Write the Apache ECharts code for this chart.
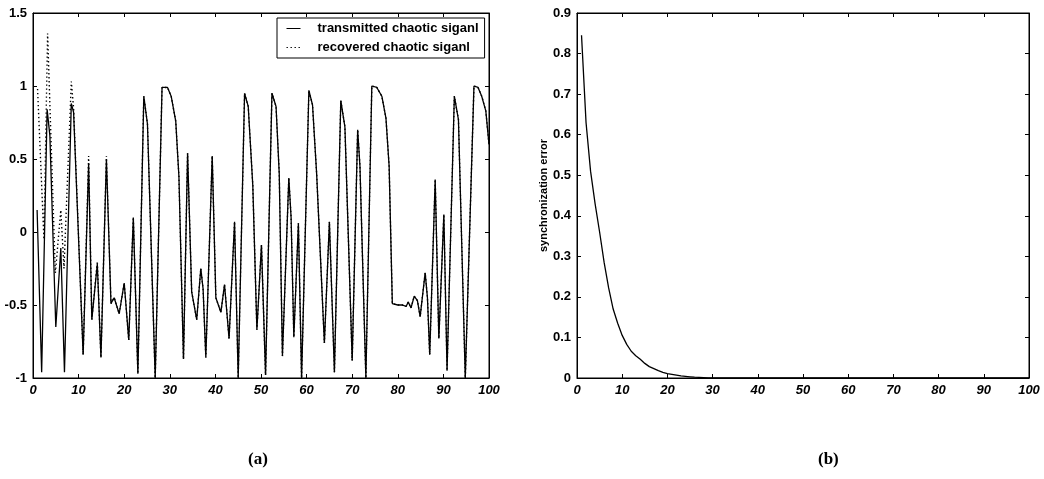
<!DOCTYPE html>
<html>
<head>
<meta charset="utf-8">
<script src="https://cdn.jsdelivr.net/npm/echarts@6/dist/echarts.min.js"></script>
<style>
  html, body { margin: 0; padding: 0; background: #fff; }
  #chart { width: 1044px; height: 479px; }
</style>
</head>
<body>
<div id="chart"></div>
<script>
// Panel (a): transmitted chaotic signal, vertices as (time, value)
const transT = [0.9, 1.9, 3.1, 3.7, 5.0, 6.1, 6.9, 8.4, 8.9, 11.0, 12.2, 12.9, 14.1, 14.9, 16.1,
  17.1, 17.8, 18.9, 20.0, 21.0, 22.0, 23.0, 24.3, 25.1, 26.8, 28.3, 29.5, 30.3, 31.3, 32.0,
  33.0, 33.9, 34.8, 35.9, 36.8, 37.3, 37.9, 39.3, 40.1, 41.2, 42.0, 43.0, 44.2, 45.0,
  46.4, 47.2, 48.2, 49.1, 50.1, 51.0, 52.4, 53.3, 54.0, 54.7, 56.1, 56.6, 57.2, 58.2, 58.9,
  60.5, 61.3, 62.2, 63.9, 65.0, 66.1, 67.5, 68.4, 70.0, 71.2, 71.7, 73.0,
  74.3, 75.4, 76.5, 77.4, 78.1, 78.8, 80.0, 81.0, 81.8, 82.3, 82.9, 83.6, 84.3, 84.9,
  86.0, 86.5, 87.0, 88.2, 89.0, 90.1, 90.8, 92.4, 93.3, 94.8, 96.7, 97.6, 98.4, 99.3, 100];
const transY = [0.15, -0.96, 0.84, 0.66, -0.65, -0.11, -0.96, 0.88, 0.82, -0.84, 0.47, -0.60, -0.22, -0.86, 0.50,
  -0.49, -0.45, -0.56, -0.35, -0.74, 0.10, -0.97, 0.93, 0.74, -1.0, 0.99, 0.99, 0.93, 0.76, 0.38,
  -0.87, 0.54, -0.41, -0.60, -0.25, -0.39, -0.86, 0.52, -0.45, -0.55, -0.36, -0.73, 0.07, -1.0,
  0.95, 0.86, 0.32, -0.67, -0.09, -0.98, 0.95, 0.86, 0.40, -0.85, 0.37, 0.10, -0.72, 0.06, -1.0,
  0.97, 0.87, 0.40, -0.76, 0.07, -0.96, 0.90, 0.72, -0.88, 0.70, 0.45, -1.0,
  1.0, 0.99, 0.93, 0.78, 0.45, -0.49, -0.50, -0.50, -0.51, -0.48, -0.52, -0.44, -0.47, -0.58,
  -0.28, -0.45, -0.84, 0.36, -0.73, 0.12, -0.95, 0.93, 0.77, -1.0, 1.0, 0.99, 0.93, 0.83, 0.60];

// Panel (a): recovered signal while it still differs; afterwards it lies on the transmitted curve
const recEarlyT = [1.0, 2.4, 3.2, 4.9, 6.1, 6.8, 8.4, 8.9, 11.0, 12.2, 12.9, 14.1, 14.9, 16.1];
const recEarlyY = [0.98, -0.05, 1.36, -0.28, 0.15, -0.25, 1.03, 0.85, -0.84, 0.52, -0.60, -0.20, -0.86, 0.52];

// Panel (b): synchronization error
const errT = [1, 2, 3, 4, 5, 6, 7, 8, 9, 10, 11, 12, 13, 14, 15, 16, 17, 18, 19, 20,
  21, 22, 23, 24, 25, 26, 27, 28, 29, 30, 40, 50, 60, 70, 80, 90, 100];
const errY = [0.845, 0.63, 0.51, 0.43, 0.36, 0.285, 0.222, 0.17, 0.135, 0.105, 0.083, 0.066, 0.055, 0.046, 0.036,
  0.028, 0.023, 0.018, 0.014, 0.011, 0.009, 0.007, 0.005, 0.004, 0.003, 0.002, 0.0015, 0.001, 0.0005, 0,
  0, 0, 0, 0, 0, 0, 0];

const seriesNames = ['transmitted chaotic siganl', 'recovered chaotic siganl'];
const errAxisName = 'synchronization error';
const captions = ['(a)', '(b)'];

const transData = transT.map((t, i) => [t, transY[i]]);
const recData = recEarlyT.map((t, i) => [t, recEarlyY[i]])
  .concat(transData.filter(p => p[0] > 16.5));
const errData = errT.map((t, i) => [t, errY[i]]);

const FONT = '"Liberation Sans", Arial, sans-serif';
const axisLineStyle = { show: true, onZero: false, lineStyle: { color: '#000', width: 1 } };
const tickStyle = { show: true, inside: true, length: 4, lineStyle: { color: '#000', width: 1 } };

function xAxisPair(grid) {
  return [
    { type: 'value', gridIndex: grid, position: 'bottom', min: 0, max: 100, interval: 10,
      axisLine: axisLineStyle, axisTick: tickStyle, splitLine: { show: false },
      axisLabel: { color: '#000', fontFamily: FONT, fontWeight: 'bold', fontStyle: 'italic', fontSize: 13,
        margin: 6, showMinLabel: true, showMaxLabel: true } },
    { type: 'value', gridIndex: grid, position: 'top', min: 0, max: 100, interval: 10,
      axisLine: axisLineStyle, axisTick: tickStyle, splitLine: { show: false }, axisLabel: { show: false } }
  ];
}
function yAxisPair(grid, min, max, interval, digits, extra) {
  return [
    Object.assign({ type: 'value', gridIndex: grid, position: 'left', min, max, interval,
      axisLine: axisLineStyle, axisTick: tickStyle, splitLine: { show: false },
      axisLabel: { color: '#000', fontFamily: FONT, fontWeight: 'bold', fontSize: 13, margin: 6,
        showMinLabel: true, showMaxLabel: true,
        formatter: v => String(+v.toFixed(digits)) } }, extra || {}),
    { type: 'value', gridIndex: grid, position: 'right', min, max, interval,
      axisLine: axisLineStyle, axisTick: tickStyle, splitLine: { show: false }, axisLabel: { show: false } }
  ];
}

const option = {
  backgroundColor: '#fff',
  animation: false,
  grid: [
    { left: 33, top: 13, width: 456, height: 365, show: true, borderColor: '#000', borderWidth: 1, containLabel: false },
    { left: 577, top: 13, width: 452, height: 365, show: true, borderColor: '#000', borderWidth: 1, containLabel: false }
  ],
  xAxis: xAxisPair(0).concat(xAxisPair(1)),
  yAxis: yAxisPair(0, -1, 1.5, 0.5, 1).concat(yAxisPair(1, 0, 0.9, 0.1, 1, {
    name: errAxisName, nameLocation: 'middle', nameGap: 28,
    nameTextStyle: { color: '#000', fontFamily: FONT, fontWeight: 'bold', fontSize: 11 }
  })),
  legend: {
    left: 277, top: 18, orient: 'vertical',
    padding: [4, 6, 4, 9], itemGap: 6, itemWidth: 14, itemHeight: 12,
    borderColor: '#000', borderWidth: 1, backgroundColor: '#fff',
    itemStyle: { opacity: 0 },
    lineStyle: { width: 1 },
    textStyle: { color: '#000', fontFamily: FONT, fontWeight: 'bold', fontSize: 13, padding: [0, 0, 0, 12] },
    data: seriesNames
  },
  series: [
    { name: seriesNames[0], type: 'line', xAxisIndex: 0, yAxisIndex: 0, data: transData,
      showSymbol: false, symbol: 'none', lineStyle: { color: '#000', width: 1.3 }, itemStyle: { color: '#000' } },
    { name: seriesNames[1], type: 'line', xAxisIndex: 0, yAxisIndex: 0, data: recData,
      showSymbol: false, symbol: 'none', lineStyle: { color: '#000', width: 1.4, type: [1.4, 2.6] }, itemStyle: { color: '#000' } },
    { name: 'error', type: 'line', xAxisIndex: 2, yAxisIndex: 2, data: errData,
      showSymbol: false, symbol: 'none', lineStyle: { color: '#000', width: 1.3 } }
  ],
  graphic: [
    { type: 'text', left: 248, top: 451, style: { text: captions[0], fill: '#000',
      font: 'bold 17px "Liberation Serif", "Times New Roman", serif' } },
    { type: 'text', left: 818, top: 451, style: { text: captions[1], fill: '#000',
      font: 'bold 17px "Liberation Serif", "Times New Roman", serif' } }
  ]
};

const chart = echarts.init(document.getElementById('chart'));
chart.setOption(option);
</script>
</body>
</html>
